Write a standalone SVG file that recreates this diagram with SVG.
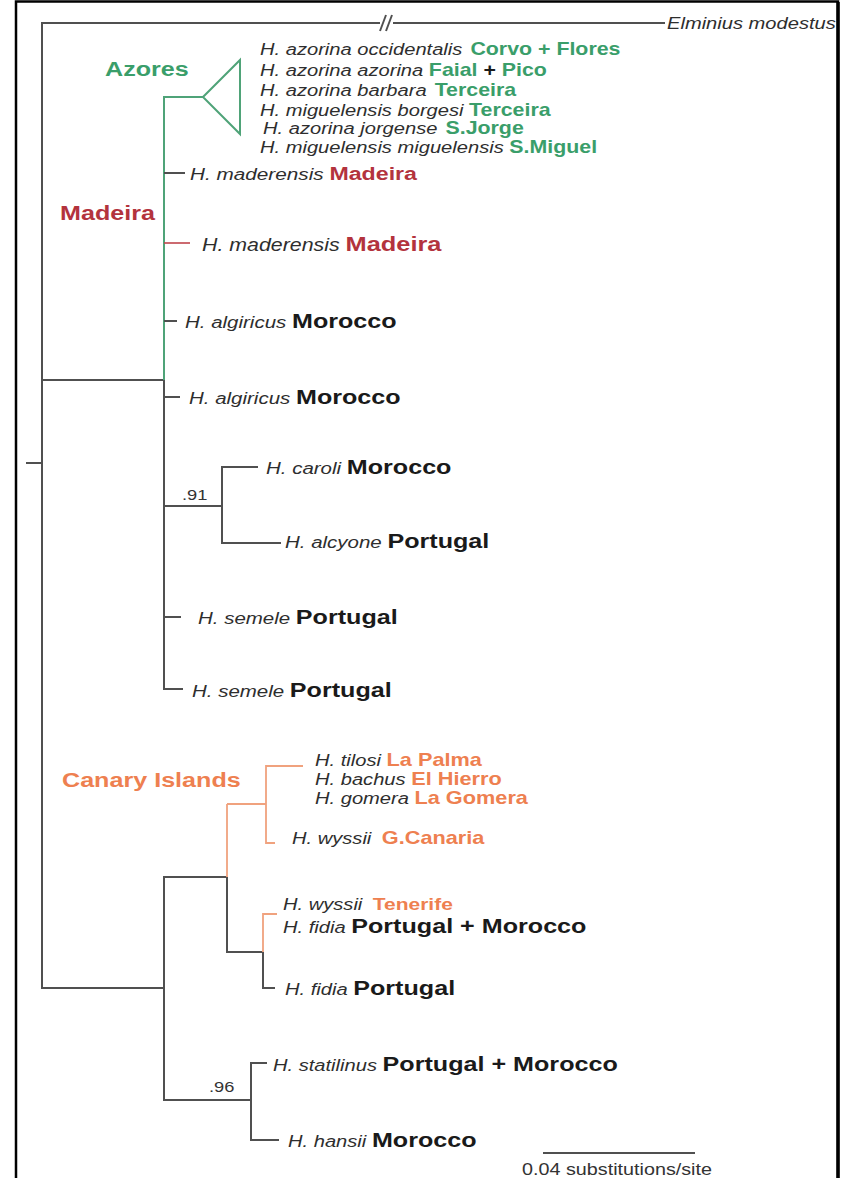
<svg xmlns="http://www.w3.org/2000/svg" width="854" height="1178" viewBox="0 0 854 1178">
<style>
text { font-family: "Liberation Sans", Arial, sans-serif; }
.i { font-style: italic; fill: #2e2e2e; }
.b { font-weight: bold; }
.g { fill: #3a9e6a; }
.r { fill: #b3333d; }
.o { fill: #ee8050; }
.k { fill: #1a1a1a; }
.ln { fill: none; stroke: #505050; stroke-width: 2; }
.lg { fill: none; stroke: #4fa378; stroke-width: 2; }
.lr { fill: none; stroke: #c0454d; stroke-width: 1.6; }
.lo { fill: none; stroke: #f0a27e; stroke-width: 1.8; }
.num { fill: #333; font-size: 15px; }
</style>
<rect width="854" height="1178" fill="#ffffff"/>
<path d="M16,1180 V1.5 H838 V1180" fill="none" stroke="#000" stroke-width="2.5"/>
<path d="M838,2 V1180" stroke="#000" stroke-width="3.5"/>

<g id="connectors">
  <line class="ln" x1="26" y1="463" x2="42" y2="463"/>
  <line class="ln" x1="42" y1="22" x2="42" y2="989"/>
  <line class="ln" x1="41" y1="23" x2="380" y2="23"/>
  <line class="ln" x1="393" y1="23" x2="665" y2="23"/>
  <line class="ln" x1="380" y1="31" x2="386" y2="15" stroke-width="1.5"/>
  <line class="ln" x1="386" y1="31" x2="392" y2="15" stroke-width="1.5"/>
  <line class="ln" x1="42" y1="380" x2="164" y2="380"/>
  <line class="lg" x1="164" y1="96" x2="164" y2="380"/>
  <line class="ln" x1="164" y1="380" x2="164" y2="690"/>
  <line class="lg" x1="164" y1="97" x2="203" y2="97"/>
  <line class="ln" x1="164" y1="173" x2="185" y2="173"/>
  <line class="lr" x1="164" y1="243" x2="190" y2="243"/>
  <line class="ln" x1="164" y1="321" x2="177" y2="321"/>
  <line class="ln" x1="164" y1="397" x2="180" y2="397"/>
  <line class="ln" x1="164" y1="506" x2="222" y2="506"/>
  <path class="ln" d="M258,467 H222 V543 H281"/>
  <line class="ln" x1="164" y1="617" x2="181" y2="617"/>
  <line class="ln" x1="163" y1="689" x2="183" y2="689"/>
  <line class="ln" x1="42" y1="988" x2="164" y2="988"/>
  <line class="ln" x1="164" y1="876" x2="164" y2="1101"/>
  <line class="ln" x1="164" y1="877" x2="227" y2="877"/>
  <line class="lo" x1="227" y1="804" x2="227" y2="877"/>
  <line class="ln" x1="227" y1="877" x2="227" y2="953"/>
  <line class="lo" x1="227" y1="804" x2="266" y2="804"/>
  <path class="lo" d="M303,766 H266 V843 H275"/>
  <line class="ln" x1="227" y1="952" x2="263" y2="952"/>
  <path class="lo" d="M277,914 H263 V952"/>
  <path class="ln" d="M263,952 V988 H275"/>
  <line class="ln" x1="164" y1="1100" x2="251" y2="1100"/>
  <path class="ln" d="M267,1063 H251 V1140 H279"/>
  <line class="ln" x1="543" y1="1153" x2="695" y2="1153"/>
</g>

<g id="outgroup">
  <text class="i" font-size="16.5" transform="translate(667,29) scale(1.22,1)">Elminius modestus</text>
</g>

<g id="azores">
  <polygon points="203,97 240,60 240,134" fill="none" stroke="#4fa378" stroke-width="2"/>
  <text class="b g" font-size="20.6" transform="translate(105,76) scale(1.22,1)">Azores</text>
  <text font-size="16.5" transform="translate(260,55) scale(1.22,1)"><tspan class="i">H. azorina occidentalis</tspan> <tspan class="b g" font-size="17.5" dx="2">Corvo + Flores</tspan></text>
  <text font-size="16.5" transform="translate(260,76) scale(1.22,1)"><tspan class="i">H. azorina azorina</tspan> <tspan class="b g" font-size="17.5">Faial</tspan><tspan class="b k" font-size="17.5"> + </tspan><tspan class="b g" font-size="17.5">Pico</tspan></text>
  <text font-size="16.5" transform="translate(260,96) scale(1.22,1)"><tspan class="i">H. azorina barbara</tspan> <tspan class="b g" font-size="17.5" dx="2">Terceira</tspan></text>
  <text font-size="16.5" transform="translate(260,116) scale(1.22,1)"><tspan class="i">H. miguelensis borgesi</tspan> <tspan class="b g" font-size="17.5">Terceira</tspan></text>
  <text font-size="16.5" transform="translate(263,134) scale(1.22,1)"><tspan class="i">H. azorina jorgense</tspan> <tspan class="b g" font-size="17.5" dx="2">S.Jorge</tspan></text>
  <text font-size="16.5" transform="translate(260,153) scale(1.22,1)"><tspan class="i">H. miguelensis miguelensis</tspan> <tspan class="b g" font-size="17.5">S.Miguel</tspan></text>
</g>

<g id="madeira">
  <text class="b r" font-size="20.6" transform="translate(60,220) scale(1.22,1)">Madeira</text>
  <text font-size="17" transform="translate(190,180) scale(1.22,1)"><tspan class="i">H. maderensis</tspan> <tspan class="b r" font-size="19">Madeira</tspan></text>
  <text font-size="17.5" transform="translate(202,251) scale(1.22,1)"><tspan class="i">H. maderensis</tspan> <tspan class="b r" font-size="20.8">Madeira</tspan></text>
</g>

<g id="algiricus-1">
  <text font-size="16.8" transform="translate(185,328) scale(1.22,1)"><tspan class="i">H. algiricus</tspan> <tspan class="b k" font-size="20.6">Morocco</tspan></text>
</g>
<g id="algiricus-2">
  <text font-size="16.8" transform="translate(189,404) scale(1.22,1)"><tspan class="i">H. algiricus</tspan> <tspan class="b k" font-size="20.6">Morocco</tspan></text>
</g>
<g id="node-91">
  <text class="num" transform="translate(182,500) scale(1.22,1)">.91</text>
  <text font-size="16.8" transform="translate(266,474) scale(1.22,1)"><tspan class="i">H. caroli</tspan> <tspan class="b k" font-size="20.6">Morocco</tspan></text>
  <text font-size="16.8" transform="translate(285,548) scale(1.22,1)"><tspan class="i">H. alcyone</tspan> <tspan class="b k" font-size="20.6">Portugal</tspan></text>
</g>
<g id="semele-1">
  <text font-size="16.8" transform="translate(198,624) scale(1.22,1)"><tspan class="i">H. semele</tspan> <tspan class="b k" font-size="20.6">Portugal</tspan></text>
</g>
<g id="semele-2">
  <text font-size="16.8" transform="translate(192,697) scale(1.22,1)"><tspan class="i">H. semele</tspan> <tspan class="b k" font-size="20.6">Portugal</tspan></text>
</g>

<g id="canary">
  <text class="b o" font-size="20.6" transform="translate(62,787) scale(1.22,1)">Canary Islands</text>
  <text font-size="16.5" transform="translate(315,766) scale(1.22,1)"><tspan class="i">H. tilosi</tspan> <tspan class="b o" font-size="17.8">La Palma</tspan></text>
  <text font-size="16.5" transform="translate(315,785) scale(1.22,1)"><tspan class="i">H. bachus</tspan> <tspan class="b o" font-size="17.8">El Hierro</tspan></text>
  <text font-size="16.5" transform="translate(315,804) scale(1.22,1)"><tspan class="i">H. gomera</tspan> <tspan class="b o" font-size="17.8">La Gomera</tspan></text>
  <text font-size="16.5" transform="translate(292,844) scale(1.22,1)"><tspan class="i">H. wyssii</tspan> <tspan class="b o" font-size="17.8" dx="4">G.Canaria</tspan></text>
  <text font-size="16.5" transform="translate(283,910) scale(1.22,1)"><tspan class="i">H. wyssii</tspan> <tspan class="b o" font-size="17.2" dx="4">Tenerife</tspan></text>
  <text font-size="16.5" transform="translate(283,933) scale(1.22,1)"><tspan class="i">H. fidia</tspan> <tspan class="b k" font-size="20.6">Portugal + Morocco</tspan></text>
</g>
<g id="fidia">
  <text font-size="16.5" transform="translate(285,995) scale(1.22,1)"><tspan class="i">H. fidia</tspan> <tspan class="b k" font-size="20.6">Portugal</tspan></text>
</g>
<g id="node-96">
  <text class="num" transform="translate(209,1092) scale(1.22,1)">.96</text>
  <text font-size="16.5" transform="translate(273,1071) scale(1.22,1)"><tspan class="i">H. statilinus</tspan> <tspan class="b k" font-size="20.6">Portugal + Morocco</tspan></text>
  <text font-size="16.5" transform="translate(288,1147) scale(1.22,1)"><tspan class="i">H. hansii</tspan> <tspan class="b k" font-size="20.6">Morocco</tspan></text>
</g>
<g id="scale-bar">
  <text font-size="16.2" fill="#333" transform="translate(522,1175) scale(1.22,1)">0.04 substitutions/site</text>
</g>
</svg>
